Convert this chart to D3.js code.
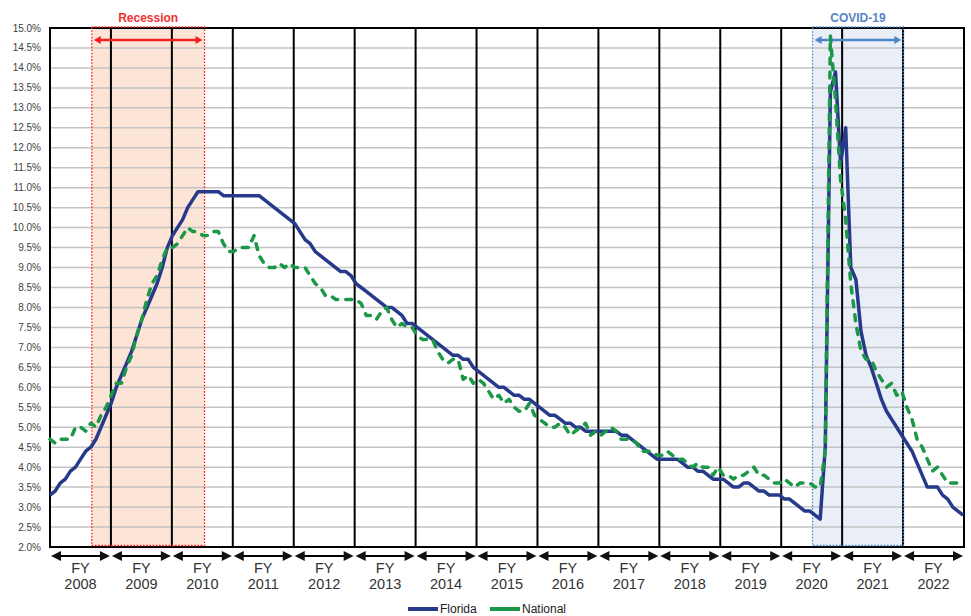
<!DOCTYPE html>
<html>
<head>
<meta charset="utf-8">
<script src="https://cdn.jsdelivr.net/npm/d3@7/dist/d3.min.js"></script>
<style>
  body { margin: 0; background: #fff; }
  text { font-family: "Liberation Sans", Arial, sans-serif; }
</style>
</head>
<body>
<div id="chart"></div>
<script>
// fiscal years run July - June, one value per month
const fiscalYears = [2008, 2009, 2010, 2011, 2012, 2013, 2014, 2015, 2016, 2017, 2018, 2019, 2020, 2021, 2022];

const yTickValues = [2.0, 2.5, 3.0, 3.5, 4.0, 4.5, 5.0, 5.5, 6.0, 6.5, 7.0, 7.5, 8.0, 8.5,
  9.0, 9.5, 10.0, 10.5, 11.0, 11.5, 12.0, 12.5, 13.0, 13.5, 14.0, 14.5, 15.0];

const floridaRate = [
  3.3, 3.4, 3.6, 3.7, 3.9, 4.0, 4.2, 4.4, 4.5, 4.7, 5.0, 5.3,
  5.6, 6.0, 6.3, 6.6, 6.9, 7.3, 7.7, 8.0, 8.3, 8.6, 9.0, 9.5,
  9.8, 10.0, 10.2, 10.5, 10.7, 10.9, 10.9, 10.9, 10.9, 10.9, 10.8, 10.8,
  10.8, 10.8, 10.8, 10.8, 10.8, 10.8, 10.7, 10.6, 10.5, 10.4, 10.3, 10.2,
  10.1, 9.9, 9.7, 9.6, 9.4, 9.3, 9.2, 9.1, 9.0, 8.9, 8.9, 8.8,
  8.6, 8.5, 8.4, 8.3, 8.2, 8.1, 8.0, 8.0, 7.9, 7.8, 7.6, 7.6,
  7.5, 7.4, 7.3, 7.2, 7.1, 7.0, 6.9, 6.8, 6.8, 6.7, 6.7, 6.5,
  6.4, 6.3, 6.2, 6.1, 6.0, 6.0, 5.9, 5.8, 5.8, 5.7, 5.7, 5.6,
  5.5, 5.4, 5.3, 5.3, 5.2, 5.1, 5.1, 5.0, 5.0, 4.9, 4.9, 4.9,
  4.9, 4.9, 4.9, 4.9, 4.8, 4.8, 4.7, 4.6, 4.5, 4.4, 4.3, 4.2,
  4.2, 4.2, 4.2, 4.2, 4.1, 4.0, 4.0, 3.9, 3.9, 3.8, 3.7, 3.7,
  3.7, 3.6, 3.5, 3.5, 3.6, 3.6, 3.5, 3.4, 3.4, 3.3, 3.3, 3.3,
  3.2, 3.2, 3.1, 3.0, 2.9, 2.9, 2.8, 2.7, 4.5, 13.4, 13.9, 11.6,
  12.5, 9.0, 8.7, 7.4, 6.8, 6.5, 6.1, 5.7, 5.4, 5.2, 5.0, 4.8,
  4.6, 4.4, 4.1, 3.8, 3.5, 3.5, 3.5, 3.3, 3.2, 3.0, 2.9, 2.8
];

const nationalRate = [
  4.7, 4.6, 4.7, 4.7, 4.7, 5.0, 5.0, 4.9, 5.1, 5.0, 5.3, 5.5,
  5.8, 6.1, 6.1, 6.5, 6.8, 7.3, 7.7, 8.2, 8.6, 8.8, 9.2, 9.5,
  9.5, 9.6, 9.8, 10.0, 9.9, 9.9, 9.8, 9.8, 9.9, 9.9, 9.6, 9.4,
  9.4, 9.5, 9.5, 9.5, 9.8, 9.3, 9.1, 9.0, 9.0, 9.1, 9.0, 9.1,
  9.0, 9.0, 9.0, 8.8, 8.6, 8.5, 8.3, 8.3, 8.2, 8.2, 8.2, 8.2,
  8.2, 8.1, 7.8, 7.8, 7.7, 7.9, 8.0, 7.7, 7.5, 7.6, 7.5, 7.5,
  7.3, 7.2, 7.2, 7.2, 6.9, 6.7, 6.6, 6.7, 6.7, 6.2, 6.3, 6.1,
  6.2, 6.1, 5.9, 5.7, 5.8, 5.6, 5.7, 5.5, 5.4, 5.4, 5.6, 5.3,
  5.2, 5.1, 5.0, 5.0, 5.1, 5.0, 4.8, 4.9, 5.0, 5.1, 4.8, 4.9,
  4.8, 4.9, 5.0, 4.9, 4.7, 4.7, 4.7, 4.6, 4.4, 4.4, 4.4, 4.3,
  4.3, 4.4, 4.3, 4.2, 4.2, 4.1, 4.0, 4.1, 4.0, 4.0, 3.8, 4.0,
  3.8, 3.8, 3.7, 3.8, 3.8, 3.9, 4.0, 3.8, 3.8, 3.7, 3.6, 3.6,
  3.7, 3.6, 3.5, 3.6, 3.6, 3.6, 3.5, 3.5, 4.4, 14.8, 13.2, 11.2,
  10.2, 8.6, 7.6, 6.9, 6.7, 6.7, 6.4, 6.2, 6.0, 6.1, 5.8, 5.9,
  5.5, 5.2, 4.7, 4.5, 4.2, 3.9, 4.0, 3.8, 3.6, 3.6, 3.6, 3.6
];

// shaded periods, in months from July 2007
const periods = [
  { label: "Recession", start: 8.2, end: 30.3 },
  { label: "COVID-19", start: 149.5, end: 167.3 }
];

const seriesNames = ["Florida", "National"];

const width = 971, height = 616;
const margin = { top: 28, right: 7, bottom: 69, left: 50 };
const x0 = margin.left, x1 = width - margin.right;
const y0 = height - margin.bottom, y1 = margin.top;

const periodStyle = {
  "Recession": { fill: "#fce4d6", stroke: "#ff1f1f", text: "#f03030", arrow: "#f02020" },
  "COVID-19": { fill: "#e9eef7", stroke: "#4a86cf", text: "#5585c5", arrow: "#4f86c6" }
};
const lineColor = { "Florida": "#27398a", "National": "#1b9847" };

const svg = d3.select("#chart").append("svg")
  .attr("width", width)
  .attr("height", height);

const x = d3.scaleLinear().domain([0, floridaRate.length - 1]).range([x0, x1 - 1]);
const xYear = d3.scaleBand().domain(fiscalYears).range([x0, x1]);
const y = d3.scaleLinear().domain([2, 15]).range([y0, y1]);

// shaded background
svg.selectAll("rect.band")
  .data(periods)
  .enter().append("rect")
  .attr("class", "band")
  .attr("x", d => x(d.start))
  .attr("y", y1)
  .attr("width", d => x(d.end) - x(d.start))
  .attr("height", y0 - y1)
  .attr("fill", d => periodStyle[d.label].fill);

// gridlines
svg.append("g")
  .selectAll("line")
  .data(yTickValues)
  .enter().append("line")
  .attr("x1", x0).attr("x2", x1)
  .attr("y1", d => y(d)).attr("y2", d => y(d))
  .attr("stroke", "#c3c3c3")
  .attr("stroke-width", 1.5);

// fiscal year dividers
svg.append("g")
  .selectAll("line")
  .data(fiscalYears.slice(1))
  .enter().append("line")
  .attr("x1", d => xYear(d)).attr("x2", d => xYear(d))
  .attr("y1", y1).attr("y2", y0)
  .attr("stroke", "#000")
  .attr("stroke-width", 2);

svg.append("rect")
  .attr("x", x0).attr("y", y1)
  .attr("width", x1 - x0).attr("height", y0 - y1)
  .attr("fill", "none")
  .attr("stroke", "#000")
  .attr("stroke-width", 2);

// dotted outline of shaded periods
svg.selectAll("rect.bandline")
  .data(periods)
  .enter().append("rect")
  .attr("class", "bandline")
  .attr("x", d => x(d.start))
  .attr("y", y1 - 1)
  .attr("width", d => x(d.end) - x(d.start))
  .attr("height", y0 - y1 - 0.5)
  .attr("fill", "none")
  .attr("stroke", d => periodStyle[d.label].stroke)
  .attr("stroke-width", 1.3)
  .attr("stroke-dasharray", "1.6,1.6");

// period labels and double arrows
const ay = 40;
periods.forEach(p => {
  const st = periodStyle[p.label];
  const a = x(p.start) + 2, b = x(p.end) - 2;
  svg.append("text")
    .attr("x", (a + b) / 2)
    .attr("y", 22)
    .attr("text-anchor", "middle")
    .attr("font-size", "12px")
    .attr("font-weight", "bold")
    .attr("fill", st.text)
    .text(p.label);
  svg.append("line")
    .attr("x1", a + 5).attr("x2", b - 5)
    .attr("y1", ay).attr("y2", ay)
    .attr("stroke", st.arrow)
    .attr("stroke-width", 2.6);
  svg.append("path")
    .attr("d", `M${a},${ay}L${a + 7},${ay - 4}L${a + 7},${ay + 4}Z M${b},${ay}L${b - 7},${ay - 4}L${b - 7},${ay + 4}Z`)
    .attr("fill", st.arrow);
});

// series lines
const line = d3.line()
  .x((d, i) => x(i))
  .y(d => y(d));

svg.append("path")
  .datum(floridaRate)
  .attr("d", line)
  .attr("fill", "none")
  .attr("stroke", lineColor["Florida"])
  .attr("stroke-width", 3.5)
  .attr("stroke-linejoin", "round");

svg.append("path")
  .datum(nationalRate)
  .attr("d", line)
  .attr("fill", "none")
  .attr("stroke", lineColor["National"])
  .attr("stroke-width", 3.5)
  .attr("stroke-linejoin", "round")
  .attr("stroke-linecap", "round")
  .attr("stroke-dasharray", "6,8");

// y axis labels
svg.append("g")
  .selectAll("text")
  .data(yTickValues)
  .enter().append("text")
  .attr("x", x0 - 9)
  .attr("y", d => y(d))
  .attr("dy", "0.35em")
  .attr("text-anchor", "end")
  .attr("font-size", "10px")
  .attr("fill", "#404040")
  .text(d => d3.format(".1f")(d) + "%");

// FY arrows and labels under the plot
const fy = svg.append("g")
  .selectAll("g")
  .data(fiscalYears)
  .enter().append("g");

const by = 556, bw = xYear.bandwidth();
fy.append("line")
  .attr("x1", d => xYear(d) + 8).attr("x2", d => xYear(d) + bw - 8)
  .attr("y1", by).attr("y2", by)
  .attr("stroke", "#000")
  .attr("stroke-width", 1.8);

fy.append("path")
  .attr("d", d => {
    const a = xYear(d) + 1, b = xYear(d) + bw - 1;
    return `M${a},${by}L${a + 10},${by - 5}L${a + 10},${by + 5}Z M${b},${by}L${b - 10},${by - 5}L${b - 10},${by + 5}Z`;
  })
  .attr("fill", "#111");

fy.append("text")
  .attr("x", d => xYear(d) + bw / 2)
  .attr("y", 573)
  .attr("text-anchor", "middle")
  .attr("font-size", "14.5px")
  .attr("fill", "#333")
  .text("FY");

fy.append("text")
  .attr("x", d => xYear(d) + bw / 2)
  .attr("y", 589)
  .attr("text-anchor", "middle")
  .attr("font-size", "14.5px")
  .attr("fill", "#333")
  .text(d => d);

// legend, kept just inside the bottom edge
const legend = svg.append("g")
  .selectAll("g")
  .data(seriesNames)
  .enter().append("g")
  .attr("transform", (d, i) => `translate(${408 + i * 82},609)`);

legend.append("line")
  .attr("x1", 0).attr("x2", 30)
  .attr("stroke", d => lineColor[d])
  .attr("stroke-width", 4);

legend.append("text")
  .attr("x", 32)
  .attr("y", 4.3)
  .attr("font-size", "12px")
  .attr("fill", "#222")
  .text(d => d);
</script>
</body>
</html>
